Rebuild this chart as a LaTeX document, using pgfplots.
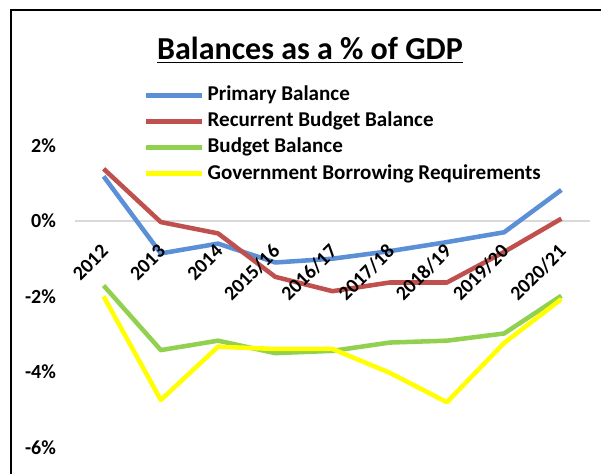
\documentclass[border=0pt]{standalone}
\usepackage{pgfplots}
\pgfplotsset{compat=1.18}
\usepackage{fontspec}
\setmainfont{Carlito}
\definecolor{pb}{HTML}{5B8FD6}
\definecolor{rb}{HTML}{C0504D}
\definecolor{bb}{HTML}{92D050}
\definecolor{gb}{HTML}{FFFF00}
\definecolor{zl}{HTML}{D9D9D9}
\begin{document}
\begin{tikzpicture}
\useasboundingbox (0,0) rectangle (450.75pt,355.5pt);
\begin{axis}[
  at={(56.25pt,0pt)}, anchor=south west,
  scale only axis, width=386.25pt, height=355.5pt,
  xmin=-0.5, xmax=8.5, ymin=-6.70, ymax=5.85,
  axis on top,
  axis x line=middle, axis y line=left,
  axis line style={draw=none},
  major tick length=0pt,
  xtick={0,1,2,3,4,5,6,7,8},
  xticklabels={2012,2013,2014,2015/16,2016/17,2017/18,2018/19,2019/20,2020/21},
  xticklabel style={xshift=3.3pt, yshift=-17.9pt, rotate=45, anchor=east, font=\fontsize{15}{17}\selectfont\bfseries},
  ytick={-6,-4,-2,0,2},
  yticklabels={-6\%,-4\%,-2\%,0\%,2\%},
  yticklabel style={anchor=east, xshift=-10.75pt, font=\fontsize{15}{17}\selectfont\bfseries},
  /pgf/number format/assume math mode=true,
  legend image code/.code={\draw[#1] (0pt,0pt) -- (42pt,0pt);},
  legend cell align=left,
  legend style={at={(axis description cs:0.133,0.822)}, anchor=north west, draw=none, fill=none, inner sep=0pt,
    font=\fontsize{15.8}{18}\selectfont\bfseries,
    nodes={inner sep=0pt, text height=12pt, text depth=4pt},
    row sep=3.6pt,
    /tikz/every odd column/.append style={column sep=2.5pt}},
  every axis plot/.append style={line width=3.4pt, line join=round},
]
\draw[zl, line width=1.3pt] (axis cs:-0.5,0) -- (axis cs:8.5,0);
\addplot[pb] coordinates {(0,1.18) (1,-0.86) (2,-0.60) (3,-1.10) (4,-1.00) (5,-0.80) (6,-0.56) (7,-0.30) (8,0.82)};
\addplot[rb] coordinates {(0,1.38) (1,-0.03) (2,-0.33) (3,-1.48) (4,-1.86) (5,-1.63) (6,-1.63) (7,-0.82) (8,0.06)};
\addplot[bb] coordinates {(0,-1.71) (1,-3.42) (2,-3.17) (3,-3.50) (4,-3.44) (5,-3.22) (6,-3.17) (7,-2.98) (8,-1.98)};
\addplot[gb] coordinates {(0,-2.00) (1,-4.74) (2,-3.33) (3,-3.39) (4,-3.39) (5,-4.02) (6,-4.80) (7,-3.23) (8,-2.07)};
\legend{Primary Balance, Recurrent Budget Balance, Budget Balance, Government Borrowing Requirements}
\end{axis}
\draw[line width=2pt] (8.25pt,-3pt) -- (8.25pt,348pt) -- (455pt,348pt);
\node[font=\fontsize{24}{28}\selectfont\bfseries, anchor=base, inner sep=0pt] at (232.5pt,310.5pt) {\underline{Balances as a \% of GDP}};
\end{tikzpicture}
\end{document}
